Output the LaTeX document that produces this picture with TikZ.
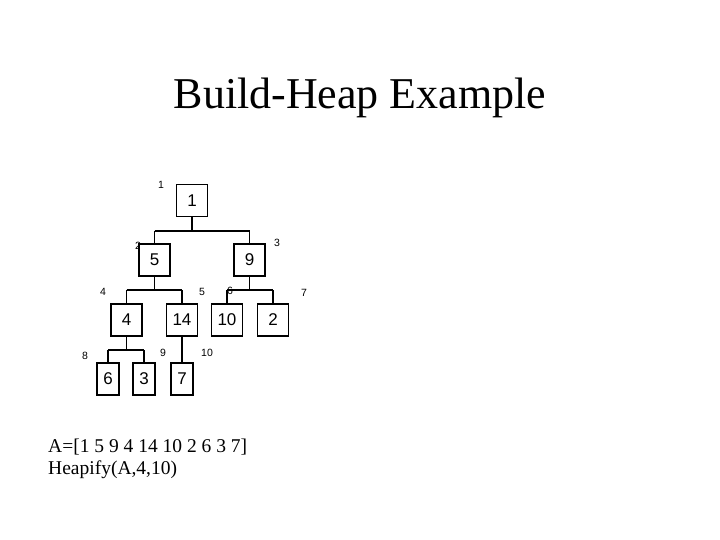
\documentclass[tikz,border=0pt]{standalone}
\usepackage{fontspec}
\setmainfont{Liberation Serif}
\newfontfamily\arialf{Liberation Sans}
\begin{document}
\begin{tikzpicture}[x=1pt,y=-1pt,
  hbox/.style={draw=black,line width=1.1pt,fill=white,minimum height=32pt,inner sep=0pt,font=\arialf\fontsize{17}{17}\selectfont},
  wbox/.style={hbox,minimum width=31pt},
  nbox/.style={hbox,minimum width=22pt},
  idx/.style={font=\arialf\fontsize{10.5}{11}\selectfont,inner sep=0pt},
  conn/.style={line width=1.1pt}]
\useasboundingbox (0,0) rectangle (720,540);
\node[font=\fontsize{44}{48}\selectfont,inner sep=0pt,anchor=base] (title) at (360,108.5) {Build-Heap Example};
% index labels (behind boxes)
\node[idx] (i1) at (161,185) {1};
\node[idx] (i2) at (138,246) {2};
\node[idx] (i3) at (277,243) {3};
\node[idx] (i4) at (103,292) {4};
\node[idx] (i5) at (202,292) {5};
\node[idx] (i6) at (230,291) {6};
\node[idx] (i7) at (304,293) {7};
\node[idx] (i8) at (85,356) {8};
\node[idx] (i9) at (163,353) {9};
\node[idx] (i10) at (207,353) {10};
% connectors
\coordinate (j1) at (192,231);
\coordinate (j2) at (154.5,290);
\coordinate (j3) at (249.5,290);
\coordinate (j4) at (126.5,350);
\draw[conn] (192,200) -- (j1);
\draw[conn] (154.5,231) -- (249.5,231);
\draw[conn] (154.5,231) -- (154.5,260);
\draw[conn] (249.5,231) -- (249.5,260);
\draw[conn] (154.5,260) -- (j2);
\draw[conn] (126.5,290) -- (182,290);
\draw[conn] (126.5,290) -- (126.5,320);
\draw[conn] (182,290) -- (182,379);
\draw[conn] (249.5,260) -- (j3);
\draw[conn] (227,290) -- (273,290);
\draw[conn] (227,290) -- (227,320);
\draw[conn] (273,290) -- (273,320);
\draw[conn] (126.5,320) -- (j4);
\draw[conn] (108,350) -- (144,350);
\draw[conn] (108,350) -- (108,379);
\draw[conn] (144,350) -- (144,379);
% boxes
\node[wbox] (n1) at (192,200.5) {1};
\node[wbox] (n2) at (154.5,260) {5};
\node[wbox] (n3) at (249.5,260) {9};
\node[wbox] (n4) at (126.5,320) {4};
\node[wbox] (n5) at (182,320) {14};
\node[wbox] (n6) at (227,320) {10};
\node[wbox] (n7) at (273,320) {2};
\node[nbox] (n8) at (108,379) {6};
\node[nbox] (n9) at (144,379) {3};
\node[nbox] (n10) at (182,379) {7};
% text
\node[anchor=base west,inner sep=0pt,align=left,font=\fontsize{19.5}{21.5}\selectfont] (arr) at (48,474) {A=[1 5 9 4 14 10 2 6 3 7]\\Heapify(A,4,10)};
\end{tikzpicture}
\end{document}
